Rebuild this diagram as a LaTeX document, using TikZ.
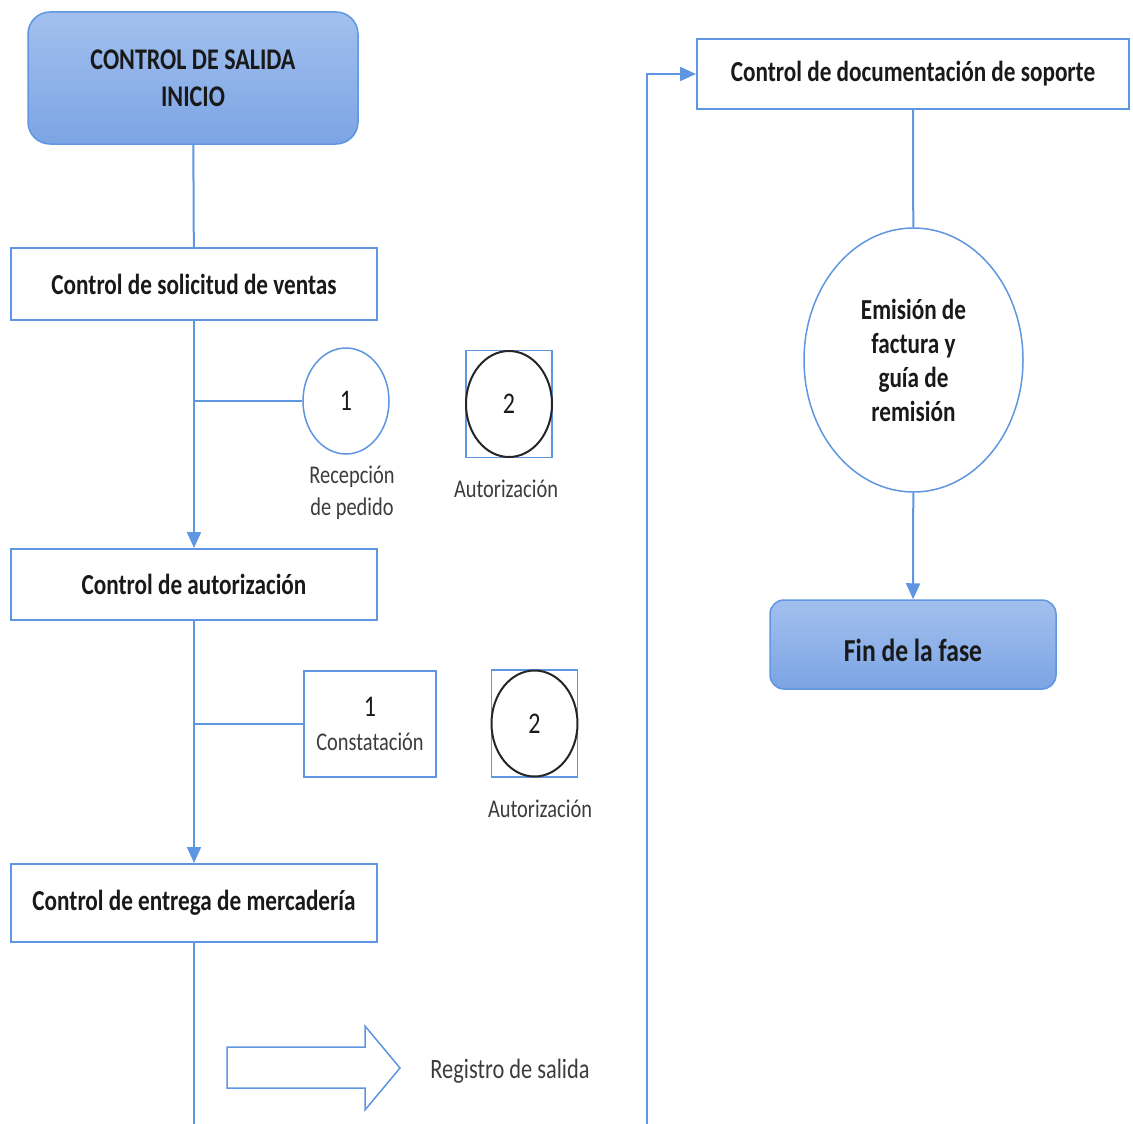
\documentclass[tikz,border=0pt]{standalone}
\usepackage{fontspec}
\setmainfont{Carlito}[FakeStretch=0.8]
\usetikzlibrary{positioning}
\usetikzlibrary{arrows.meta}
\usetikzlibrary{shapes.geometric}

\definecolor{lineblue}{RGB}{95,150,225}
\definecolor{filltop}{RGB}{162,192,238}
\definecolor{fillbot}{RGB}{124,164,228}
\definecolor{labelgray}{RGB}{60,60,60}
\definecolor{titleblack}{RGB}{25,25,25}

\tikzset{
 flow/.style={draw=lineblue, line width=2pt},
 flowarr/.style={flow, -{Triangle[length=16pt,width=14pt]}},
 ctrlbox/.style={draw=lineblue, line width=2pt, fill=white, minimum width=366pt, inner sep=0pt,
   text=titleblack, align=center, font=\bfseries\fontsize{29}{34}\selectfont},
 termbox/.style={draw=lineblue, line width=1.5pt, top color=filltop, bottom color=fillbot,
   inner sep=0pt, text=titleblack, align=center},
 stepcirc/.style={ellipse, draw=lineblue, line width=1.5pt, fill=white, inner sep=0pt,
   minimum width=86pt, minimum height=106pt, font=\fontsize{30}{30}\selectfont, text=titleblack},
 framebox/.style={draw=lineblue, line width=1.5pt, inner sep=0pt, minimum width=86pt, minimum height=107pt},
 blackcirc/.style={ellipse, draw=black!85, line width=2pt, inner sep=0pt,
   minimum width=86pt, minimum height=106pt, font=\fontsize{30}{30}\selectfont, text=titleblack},
 steplabel/.style={text=labelgray, align=center, font=\fontsize{25.5}{32}\selectfont},
}

\begin{document}
\begin{tikzpicture}[x=1pt,y=-1pt]
 \useasboundingbox (0,0) rectangle (1133,1124);

 % left column
 \node[termbox, rounded corners=22pt, minimum width=330pt, minimum height=132pt,
   font=\bfseries\fontsize{30}{37}\selectfont] (inicio) at (193,78) {CONTROL DE SALIDA\\INICIO};
 \node[ctrlbox, minimum height=72pt] (solicitud) at (194,284) {Control de solicitud de ventas};
 \node[ctrlbox, minimum height=71pt] (autorizacion) at (194,584.5) {Control de autorización};
 \node[ctrlbox, minimum height=78pt] (entrega) at (194,903) {Control de entrega de mercadería};

 % first checks
 \node[stepcirc] (recep) at (346,401) {1};
 \node[steplabel] (recepl) at (352,493) {Recepción\\de pedido};
 \node[framebox] (autfa) at (509,404) {};
 \node[blackcirc] (auta) at (509,404) {2};
 \node[steplabel] (autal) at (506,489) {Autorización};

 % second checks
 \node[draw=lineblue, line width=1.5pt, minimum width=132pt, minimum height=106pt, inner sep=0pt,
   align=center, font=\fontsize{25.5}{34}\selectfont, text=labelgray] (const) at (370,724)
   {{\fontsize{30}{30}\selectfont\color{titleblack}1}\\Constatación};
 \node[framebox] (autfb) at (534.5,723.5) {};
 \node[blackcirc] (autb) at (534.5,723.5) {2};
 \node[steplabel] (autbl) at (540,809) {Autorización};

 % exit register
 \draw[flow, line width=1.5pt, line join=miter] (227,1047) -- (365,1047) -- (365,1026) -- (400,1068)
   -- (365,1110) -- (365,1088) -- (227,1088) -- cycle;
 \node[steplabel, font=\fontsize{28}{32}\selectfont] (registro) at (510,1071) {Registro de salida};

 % right column
 \node[ctrlbox, minimum width=432pt, minimum height=70pt] (docu) at (913,74) {Control de documentación de soporte};
 \node[ellipse, draw=lineblue, line width=1.5pt, minimum width=219pt, minimum height=264pt, inner sep=0pt,
   align=center, text=titleblack, font=\bfseries\fontsize{29}{34}\selectfont] (emision) at (913.5,360)
   {Emisión de\\factura y\\guía de\\remisión};
 \node[termbox, rounded corners=14pt, minimum width=286pt, minimum height=89pt,
   font=\bfseries\fontsize{32}{36}\selectfont] (fase) at (913,644.5) {\raisebox{-17pt}[0pt][0pt]{Fin de la fase}};

 \coordinate (salida) at (194,1124);
 \coordinate (retorno) at (647,1124);

 % connectors
 \draw[flow] (inicio) -- (solicitud);
 \draw[flowarr] (solicitud) -- (autorizacion);
 \draw[flow] (solicitud.south |- recep.west) -- (recep.west);
 \draw[flowarr] (autorizacion) -- (entrega);
 \draw[flow] (autorizacion.south |- const.west) -- (const.west);
 \draw[flow] (entrega) -- (salida);
 \draw[flowarr] (retorno) |- (docu.west);
 \draw[flow] (docu) -- (emision);
 \draw[flowarr] (emision) -- (fase);
\end{tikzpicture}
\end{document}
